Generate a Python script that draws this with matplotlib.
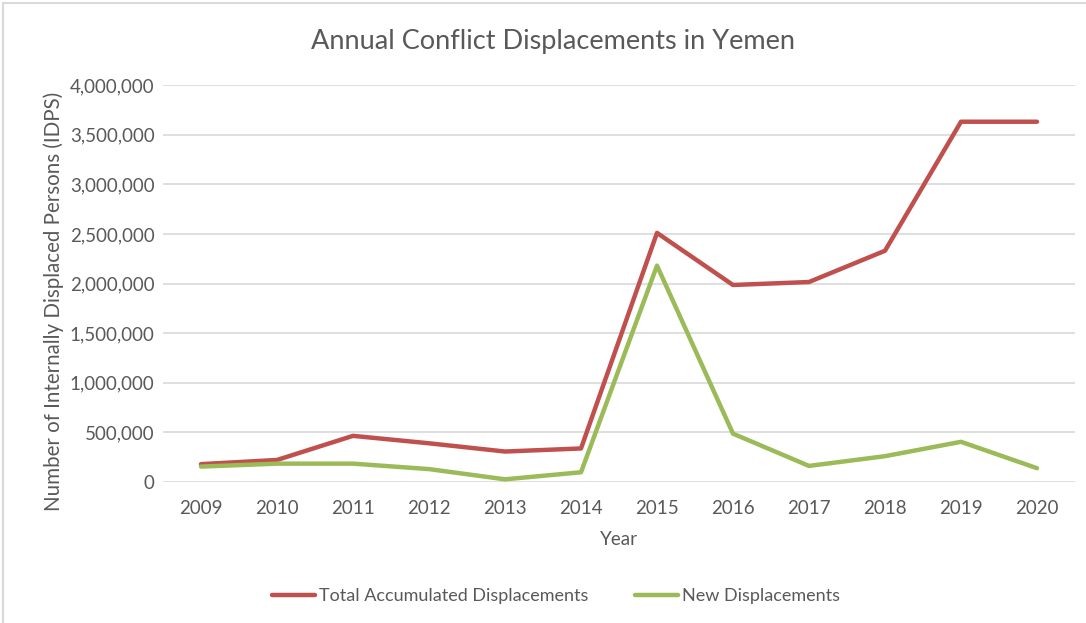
import matplotlib.pyplot as plt
from matplotlib.ticker import FuncFormatter
from matplotlib.patches import Rectangle

years = [2009, 2010, 2011, 2012, 2013, 2014, 2015, 2016, 2017, 2018, 2019, 2020]
total_displaced = [180000, 222000, 465000, 390000, 307000, 338000, 2510000,
                   1985000, 2015000, 2330000, 3630000, 3630000]
new_displaced = [155000, 185000, 185000, 130000, 27000, 98000, 2180000,
                 487000, 162000, 260000, 405000, 139000]

plt.rcParams['font.family'] = ['Lato', 'DejaVu Sans']
txt = '#595959'

fig = plt.figure(figsize=(10.86, 6.23), dpi=100)
ax = fig.add_axes([163 / 1086, 1 - 482 / 623, (1075 - 163) / 1086, (482 - 85) / 623])

x = list(range(len(years)))
ax.plot(x, total_displaced, color='#C0504D', lw=3.2, label='Total Accumulated Displacements',
        solid_joinstyle='round', solid_capstyle='round', zorder=3)
ax.plot(x, new_displaced, color='#9BBB59', lw=3.2, label='New Displacements',
        solid_joinstyle='round', solid_capstyle='round', zorder=3)

ax.set_xlim(-0.5, len(years) - 0.5)
ax.set_ylim(0, 4000000)
ax.set_yticks(range(0, 4000001, 500000))
ax.yaxis.set_major_formatter(FuncFormatter(lambda v, p: f'{int(v):,}'))
ax.set_xticks(x)
ax.set_xticklabels([str(y) for y in years])
ax.grid(axis='y', color='#D9D9D9', lw=1.2)
ax.set_axisbelow(True)
for s in ax.spines.values():
    s.set_visible(False)
ax.tick_params(length=0, labelsize=13.5, labelcolor=txt)
ax.tick_params(axis='x', pad=13)
ax.tick_params(axis='y', pad=6)

ax.set_xlabel('Year', fontsize=13.5, color=txt, labelpad=10)
ax.set_ylabel('Number of Internally Displaced Persons (IDPS)', fontsize=14.8, color=txt)
ax.yaxis.set_label_coords(-0.109, 0.455)
fig.text(553 / 1086, 1 - 42 / 623, 'Annual Conflict Displacements in Yemen', ha='center', va='center',
         fontsize=19.5, color=txt)

fig.legend(loc='center', bbox_to_anchor=(556 / 1086, 1 - 596 / 623), ncol=2, frameon=False,
           fontsize=13, labelcolor=txt, handlelength=2.4, handletextpad=0.2, columnspacing=2.6)

fig.patches.append(Rectangle((3 / 1086, -0.01), 1.1, 1 - 3 / 623 + 0.01, transform=fig.transFigure,
                             fill=False, edgecolor='#D9D9D9', lw=1.5))

fig.savefig('out.png', dpi=100)
